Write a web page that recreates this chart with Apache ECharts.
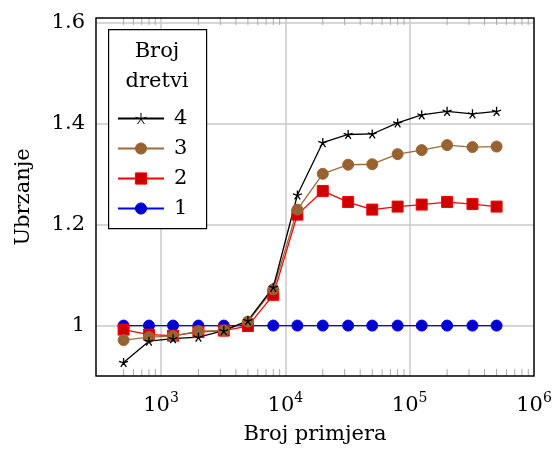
<!DOCTYPE html>
<html><head><meta charset="utf-8">
<script src="https://cdn.jsdelivr.net/npm/echarts@6.0.0/dist/echarts.min.js"></script>
<style>html,body{margin:0;padding:0;background:#fff}#c{width:555px;height:450px}</style>
</head><body><div id="c"></div>
<script>
const xValues = [500, 800, 1250, 2000, 3200, 5000, 8000, 12500, 20000, 32000, 50000, 80000, 125000, 200000, 320000, 500000];
const threads1 = [1, 1, 1, 1, 1, 1, 1, 1, 1, 1, 1, 1, 1, 1, 1, 1];
const threads2 = [0.992, 0.982, 0.980, 0.987, 0.990, 0.999, 1.061, 1.220, 1.267, 1.245, 1.230, 1.236, 1.240, 1.245, 1.241, 1.236];
const threads3 = [0.971, 0.977, 0.979, 0.989, 0.990, 1.008, 1.072, 1.230, 1.301, 1.319, 1.320, 1.340, 1.348, 1.358, 1.354, 1.355];
const threads4 = [0.927, 0.969, 0.974, 0.977, 0.990, 1.010, 1.076, 1.259, 1.363, 1.379, 1.380, 1.402, 1.418, 1.425, 1.420, 1.425];
const seriesNames = ['1', '2', '3', '4'];
const legendOrder = ['4', '3', '2', '1'];
const legendTitle = ['Broj', 'dretvi'];
const yTickValues = [1, 1.2, 1.4, 1.6];
const yTickLabels = ['1', '1.2', '1.4', '1.6'];
const xTickExponents = [3, 4, 5, 6];
const xMinorTicks = [500, 600, 700, 800, 900, 2000, 3000, 4000, 5000, 6000, 7000, 8000, 9000,
  20000, 30000, 40000, 50000, 60000, 70000, 80000, 90000, 200000, 300000, 400000, 500000, 600000, 700000, 800000, 900000];
const xAxisName = 'Broj primjera';
const yAxisName = 'Ubrzanje';

const FONT = 'DejaVu Serif';
const X_MIN = 300, X_MAX = 1e6, Y_MIN = 0.9, Y_MAX = 1.61;

const STAR = 'path://M0 0L0 -1M0 0L0.951 -0.309M0 0L0.588 0.809M0 0L-0.588 0.809M0 0L-0.951 -0.309';
const OTIMES = 'path://M1 0A1 1 0 1 1 -1 0A1 1 0 1 1 1 0ZM0.707 0.707L-0.707 -0.707M-0.707 0.707L0.707 -0.707';

const styles = {
  '1': { line: '#0000ff', fill: '#0000cc', symbol: 'circle', size: 11 },
  '2': { line: '#ff0000', fill: '#cc0000', symbol: 'rect', size: 11 },
  '3': { line: '#a0693a', fill: '#94612f', symbol: OTIMES, size: 11 },
  '4': { line: '#000000', fill: 'rgba(0,0,0,0)', symbol: STAR, size: 9 }
};
const values = { '1': threads1, '2': threads2, '3': threads3, '4': threads4 };

const chart = echarts.init(document.getElementById('c'), null, { renderer: 'canvas' });

const lineSeries = seriesNames.map(n => ({
  name: n,
  type: 'line',
  data: xValues.map((x, i) => [x, values[n][i]]),
  symbol: styles[n].symbol,
  symbolSize: styles[n].size,
  showAllSymbol: true,
  lineStyle: { color: styles[n].line, width: 1.3 },
  itemStyle: { color: styles[n].fill, borderColor: styles[n].line, borderWidth: n === '4' ? 1.3 : 1 },
  emphasis: { disabled: true },
  z: 2
}));

const minorTickSeries = {
  type: 'custom',
  name: 'minor',
  silent: true,
  data: xMinorTicks.map(v => [v, Y_MIN]),
  encode: { x: 0, y: 1 },
  renderItem: function (params, api) {
    const bottom = api.coord([api.value(0), Y_MIN]);
    const top = api.coord([api.value(0), Y_MAX]);
    return {
      type: 'group',
      children: [
        { type: 'line', shape: { x1: bottom[0], y1: bottom[1], x2: bottom[0], y2: bottom[1] - 7 }, style: { stroke: '#aaaaaa', lineWidth: 1 } },
        { type: 'line', shape: { x1: top[0], y1: top[1], x2: top[0], y2: top[1] + 7 }, style: { stroke: '#aaaaaa', lineWidth: 1 } }
      ]
    };
  },
  z: 1
};

const option = {
  animation: false,
  backgroundColor: '#ffffff',
  grid: { left: 96, right: 21, top: 18, bottom: 70, show: true, borderColor: '#000', borderWidth: 1.4, backgroundColor: 'transparent', z: 3 },
  xAxis: {
    type: 'log', logBase: 10, min: X_MIN, max: X_MAX,
    axisLine: { show: false }, axisTick: { show: false },
    splitLine: { show: true, lineStyle: { color: '#c8c8c8', width: 1.5 } },
    axisLabel: {
      margin: 15, color: '#000',
      formatter: function (v) {
        const l = Math.log10(v), e = Math.round(l);
        if (Math.abs(l - e) > 1e-6 || xTickExponents.indexOf(e) < 0) return '';
        return '{b|10}{s|' + e + '}';
      },
      rich: {
        b: { fontFamily: FONT, fontSize: 21, color: '#000' },
        s: { fontFamily: FONT, fontSize: 14, color: '#000', padding: [0, 0, 16, 0] }
      }
    },
    name: xAxisName, nameLocation: 'middle', nameGap: 48,
    nameTextStyle: { fontFamily: FONT, fontSize: 21, color: '#000' }
  },
  yAxis: {
    type: 'value', min: Y_MIN, max: Y_MAX, interval: 0.1,
    axisLine: { show: false }, axisTick: { show: false },
    splitLine: { show: true, lineStyle: { color: ['rgba(0,0,0,0)', '#c8c8c8'], width: 1.5 } },
    axisLabel: {
      margin: 11, color: '#000', fontFamily: FONT, fontSize: 21,
      showMinLabel: true, showMaxLabel: true,
      formatter: function (v) {
        for (let i = 0; i < yTickValues.length; i++) {
          if (Math.abs(v - yTickValues[i]) < 1e-6) return yTickLabels[i];
        }
        return '';
      }
    },
    name: yAxisName, nameLocation: 'middle', nameGap: 62,
    nameTextStyle: { fontFamily: FONT, fontSize: 21, color: '#000' }
  },
  legend: {
    data: legendOrder,
    orient: 'vertical',
    left: 117, top: 108, padding: 0,
    itemWidth: 46, itemHeight: 14, itemGap: 9,
    itemStyle: { borderWidth: 1 },
    textStyle: { fontFamily: FONT, fontSize: 21, color: '#000', padding: [0, 0, 0, 5] },
    selectedMode: false,
    z: 6
  },
  graphic: [
    { type: 'rect', left: 108, top: 29, z: 5, shape: { width: 98, height: 199 }, style: { fill: '#fff', stroke: '#000', lineWidth: 1.2 } },
    { type: 'text', x: 157, y: 52, z: 7, style: { text: legendTitle[0], font: '21px "' + FONT + '"', fill: '#000', align: 'center', verticalAlign: 'middle' } },
    { type: 'text', x: 157, y: 82, z: 7, style: { text: legendTitle[1], font: '21px "' + FONT + '"', fill: '#000', align: 'center', verticalAlign: 'middle' } }
  ],
  series: [minorTickSeries].concat(lineSeries)
};
chart.setOption(option);
</script>
</body></html>
